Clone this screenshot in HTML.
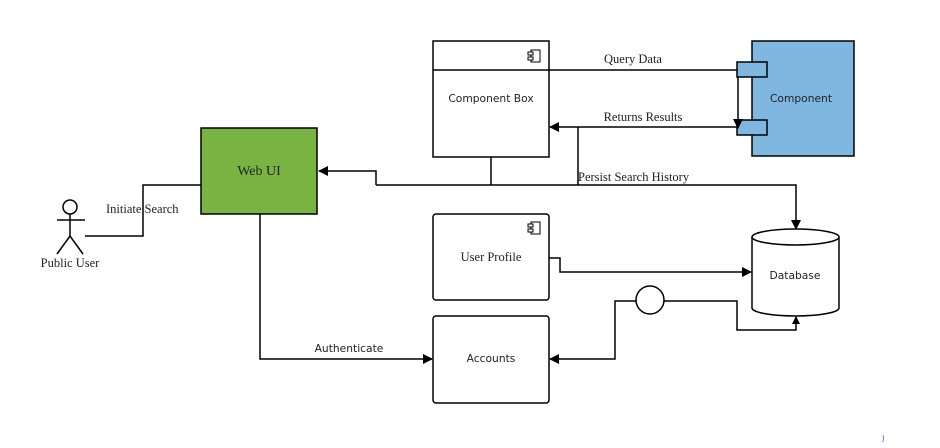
<!DOCTYPE html>
<html><head><style>
body{margin:0;background:#fff;}
svg{display:block;}
text{font-family:"Liberation Serif",serif;font-size:12.5px;fill:#222;}
.s{font-family:"DejaVu Sans","Liberation Sans",sans-serif;font-size:10.7px;}
</style></head><body>
<svg width="940" height="448" viewBox="0 0 940 448" xmlns="http://www.w3.org/2000/svg">
<defs>
<marker id="a" markerWidth="10" markerHeight="10" refX="9" refY="5" orient="auto" markerUnits="userSpaceOnUse">
<path d="M0,0 L10,5 L0,10 z" fill="#000"/></marker>
<marker id="b" markerWidth="8" markerHeight="8" refX="7" refY="4" orient="auto" markerUnits="userSpaceOnUse">
<path d="M0,0 L8,4 L0,8 z" fill="#000"/></marker>
</defs>
<g fill="none" stroke="#000" stroke-width="1.5">
<rect x="433" y="41" width="116" height="116" fill="#fff"/>
<line x1="433" y1="70" x2="549" y2="70"/>
<rect x="752" y="41" width="102" height="115" fill="#7fb7e1"/>
<rect x="737" y="62" width="30" height="15" fill="#7fb7e1"/>
<rect x="737" y="120" width="30" height="15" fill="#7fb7e1"/>
<line x1="549" y1="70" x2="737" y2="70"/>
<line x1="738" y1="77" x2="738" y2="128" marker-end="url(#a)"/>
<line x1="737" y1="127" x2="550" y2="127" marker-end="url(#a)"/>
<polyline points="578,127 578,185"/>
<polyline points="491,157 491,185"/>
<polyline points="376,185 796,185 796,229" />
<polyline points="376,185 376,171 319,171" marker-end="url(#a)"/>
<line x1="796" y1="220" x2="796" y2="229" marker-end="url(#a)"/>
<rect x="201" y="128" width="116" height="86" fill="#79b443"/>
<circle cx="70" cy="207" r="7" fill="#fff"/>
<line x1="57" y1="220" x2="85" y2="220"/>
<line x1="70" y1="214" x2="70" y2="236"/>
<polyline points="57,254 70,236 83,254"/>
<polyline points="85,236 143,236 143,185 201,185"/>
<polyline points="260,214 260,359 432,359" marker-end="url(#a)"/>
<rect x="433" y="214" width="116" height="86" rx="3" fill="#fff"/>
<polyline points="549,258 560,258 560,272 751,272" marker-end="url(#a)"/>
<rect x="433" y="316" width="116" height="87" rx="3" fill="#fff"/>
<path d="M752,237 L752,308 A43.5,8 0 0 0 839,308 L839,237" fill="#fff"/>
<ellipse cx="795.5" cy="237" rx="43.5" ry="8" fill="#fff"/>
<circle cx="650" cy="300" r="14" fill="#fff"/>
<polyline points="636,301 615,301 615,359 550,359" marker-end="url(#a)"/>
<polyline points="664,301 737,301 737,330 796,330 796,317" marker-end="url(#b)"/>
</g>
<g fill="#fff" stroke="#000" stroke-width="1">
<rect x="531" y="50" width="9" height="12"/><rect x="528" y="52" width="5" height="3"/><rect x="528" y="57" width="5" height="3"/>
<rect x="531" y="222" width="9" height="12"/><rect x="528" y="224" width="5" height="3"/><rect x="528" y="229" width="5" height="3"/>
</g>
<text class="s" x="491" y="102" text-anchor="middle">Component Box</text>
<text class="s" x="801" y="102" text-anchor="middle">Component</text>
<text x="633" y="63" text-anchor="middle">Query Data</text>
<text x="643" y="121" text-anchor="middle">Returns Results</text>
<text x="578" y="181">Persist Search History</text>
<text x="259" y="175" text-anchor="middle" style="font-size:14px">Web UI</text>
<text x="106" y="213">Initiate Search</text>
<text x="70" y="267" text-anchor="middle">Public User</text>
<text class="s" x="349" y="352" text-anchor="middle">Authenticate</text>
<text x="491" y="261" text-anchor="middle">User Profile</text>
<text class="s" x="491" y="362" text-anchor="middle">Accounts</text>
<text class="s" x="795" y="279" text-anchor="middle">Database</text>
<text x="882" y="440" style="fill:#1a5bd6;font-size:9px">ȷ</text>
</svg>
</body></html>
